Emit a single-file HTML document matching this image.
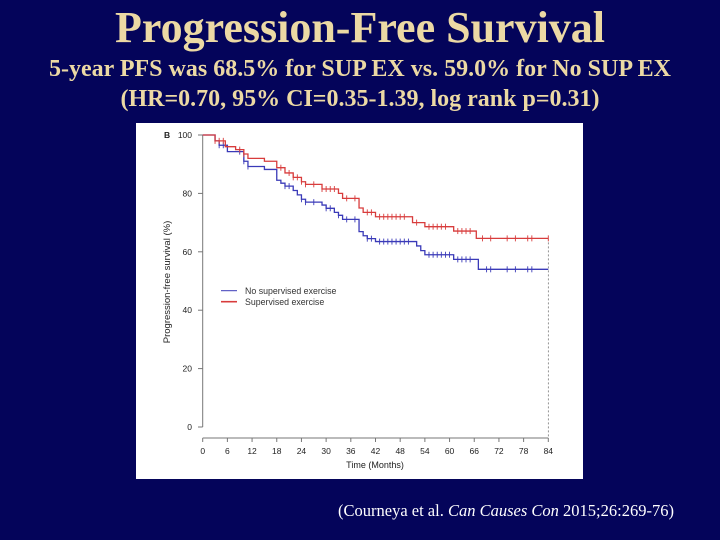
<!DOCTYPE html>
<html><head><meta charset="utf-8">
<style>
html,body{margin:0;padding:0;}
body{width:720px;height:540px;background:#04045a;position:relative;overflow:hidden;font-family:"Liberation Serif",serif;}
.t{position:absolute;left:0;width:720px;text-align:center;color:#ecd9a4;font-weight:bold;white-space:nowrap;}
#cite{position:absolute;left:338px;top:501px;color:#fff;font-size:16.5px;white-space:nowrap;}
#panel{position:absolute;left:136px;top:123px;}
</style></head><body>
<div class="t" style="top:2px;font-size:44px;">Progression-Free Survival</div>
<div class="t" style="top:56px;font-size:24px;">5-year PFS was 68.5% for SUP EX vs. 59.0% for No SUP EX</div>
<div class="t" style="top:86px;font-size:24px;">(HR=0.70, 95% CI=0.35-1.39, log rank p=0.31)</div>
<div id="cite">(Courneya et al. <i>Can Causes Con</i> 2015;26:269-76)</div>
<svg id="panel" width="447" height="356" viewBox="136 123 447 356" xmlns="http://www.w3.org/2000/svg" font-family="Liberation Sans, sans-serif">
<rect x="136" y="123" width="447" height="356" fill="#fff"/>
<g id="axes"></g>
<g id="series"></g>
</svg>
<script>
const xTicks=[0,6,12,18,24,30,36,42,48,54,60,66,72,78,84];
const xTickLabels=["0","6","12","18","24","30","36","42","48","54","60","66","72","78","84"];
const yTicks=[0,20,40,60,80,100];
const noSupTimes=[0,3,4,6,10,11,15,18,19,20,22,23,24,25,29,30,32,33,34,38,39,40,42,52,53,54,61,67,84];
const noSupValues=[100,98,96.5,94.3,91,89.2,88.2,84.5,83.5,82.5,81,79.5,78,77,76,74.9,73.5,72.5,71.1,66.9,65.5,64.5,63.5,62,60.4,59,57.4,54,54];
const supTimes=[0,3,5.5,8,10,11,15,18,20,22,24,25,29,33,34,38,39,42,51,54,61,66.5,84];
const supValues=[100,98,96,95,93.5,92,91,88.8,87,85.5,84,83.1,81.5,80,78.3,75,73.5,72,70,68.6,67.1,64.6,64.6];
const noSupCensor=[4,5,9,10,11,20,21,24,25,27,30,31,33,35,37,40,41,43,44,45,46,47,48,49,50,55,56,57,58,59,60,62,63,64,65,69,70,74,76,79,80];
const supCensor=[3,4,5,9,10,19,21,22,23,24,25,27,29,30,31,32,35,37,40,41,43,44,45,46,47,48,49,52,55,56,57,58,59,62,63,64,65,68,70,74,76,79,80,84];
const NS="http://www.w3.org/2000/svg";
const X=m=>202.7+m*(548.3-202.7)/84;
const Y=v=>427-v*(427-135)/100;
function mk(tag,attrs,parent){const e=document.createElementNS(NS,tag);for(const k in attrs)e.setAttribute(k,attrs[k]);parent.appendChild(e);return e;}
const ax=document.getElementById('axes'), sr=document.getElementById('series');
const ya=mk('line',{x1:202.7,y1:Y(100),x2:202.7,y2:Y(0),stroke:'#777','stroke-width':1},ax);


yTicks.forEach(v=>{
 mk('line',{x1:198,y1:Y(v),x2:202.7,y2:Y(v),stroke:'#777'},ax);
 const t=mk('text',{x:192,y:Y(v)+3,'font-size':8.5,'text-anchor':'end',fill:'#222'},ax);t.textContent=v;
 
 
});
const xa=mk('line',{x1:X(0),y1:438,x2:X(84),y2:438,stroke:'#777'},ax);


xTicks.forEach((m,i)=>{
 mk('line',{x1:X(m),y1:438,x2:X(m),y2:442,stroke:'#777'},ax);
 const t=mk('text',{x:X(m),y:454,'font-size':8.5,'text-anchor':'middle',fill:'#222'},ax);t.textContent=xTickLabels[i];
 
 
});
const xt=mk('text',{x:375,y:468,'font-size':9,'text-anchor':'middle',fill:'#222'},ax);xt.textContent='Time (Months)';


const yt=mk('text',{x:0,y:0,'font-size':9.5,'text-anchor':'middle',fill:'#222',transform:'translate(170,282) rotate(-90)'},ax);yt.textContent='Progression-free survival (%)';


const pl=mk('text',{x:164,y:138,'font-size':8.5,'font-weight':'bold',fill:'#222'},ax);pl.textContent='B';


mk('line',{x1:X(84),y1:Y(64.6),x2:X(84),y2:438,stroke:'#666','stroke-dasharray':'2,2','stroke-width':0.7},ax);
function valAt(ts,vs,m){let v=vs[0];for(let i=0;i<ts.length;i++){if(ts[i]<=m)v=vs[i];}return v;}
function drawKM(ts,vs,cens,color,name){
 let d='M'+X(ts[0])+','+Y(vs[0]);
 for(let i=1;i<ts.length;i++){d+=' H'+X(ts[i])+' V'+Y(vs[i]);}
 const p=mk('path',{d:d,fill:'none',stroke:color,'stroke-width':1.3},sr);
 
 
 cens.forEach(m=>{const y=Y(valAt(ts,vs,m));
  const c=mk('line',{x1:X(m),y1:y-3,x2:X(m),y2:y+3,stroke:color,'stroke-width':0.9},sr);
  
  
 });
}
drawKM(noSupTimes,noSupValues,noSupCensor,'#3a3ab8','no-supervised');
drawKM(supTimes,supValues,supCensor,'#d83c3c','supervised');
const lg=mk('g',{},sr);


mk('line',{x1:221,y1:290.7,x2:237,y2:290.7,stroke:'#3a3ab8','stroke-width':1},lg);
mk('line',{x1:221,y1:301.7,x2:237,y2:301.7,stroke:'#d83c3c','stroke-width':1.6},lg);
const l1=mk('text',{x:245,y:294,'font-size':8.8,fill:'#333'},lg);l1.textContent='No supervised exercise';


const l2=mk('text',{x:245,y:305,'font-size':8.8,fill:'#333'},lg);l2.textContent='Supervised exercise';


</script>
</body></html>
